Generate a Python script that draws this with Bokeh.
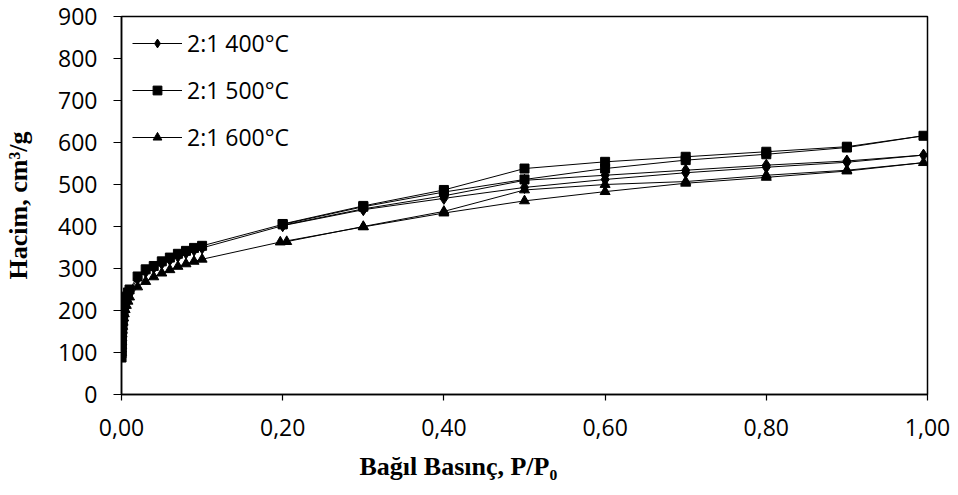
from bokeh.plotting import figure
from bokeh.models import FixedTicker, Legend, LegendItem, Range1d, Title
from bokeh.embed import file_html
from bokeh.resources import INLINE

# ---- data ----
x_ticks = [0.0, 0.2, 0.4, 0.6, 0.8, 1.0]
x_tick_labels = ["0,00", "0,20", "0,40", "0,60", "0,80", "1,00"]
y_ticks = [0, 100, 200, 300, 400, 500, 600, 700, 800, 900]

series_names = ["2:1 400°C", "2:1 500°C", "2:1 600°C"]
x_title = "Bağıl Basınç, P/P₀"
y_title = "Hacim, cm³/g"

# 2:1 400°C (diamond)
p400_ads = [0.00005, 0.0001, 0.0002, 0.0003, 0.0005, 0.0007, 0.001, 0.0014, 0.002, 0.0027,
            0.0035, 0.0045, 0.006, 0.008, 0.01, 0.02, 0.03, 0.04, 0.05, 0.06, 0.07, 0.08,
            0.09, 0.1, 0.2, 0.3, 0.4, 0.5, 0.6, 0.7, 0.8, 0.9, 0.995]
v400_ads = [95, 104, 114, 124, 134, 144, 154, 164, 175, 186,
            197, 208, 220, 232, 244, 276, 292, 302, 312, 321, 329, 337,
            344, 349, 402, 440, 467, 493, 512, 528, 541, 553, 570]
p400_des = [0.9, 0.8, 0.7, 0.6, 0.5, 0.4, 0.3, 0.2]
v400_des = [556, 546, 534, 522, 510, 473, 442, 403]

# 2:1 500°C (square)
p500_ads = [0.00005, 0.0001, 0.0002, 0.0003, 0.0004, 0.0005, 0.0007, 0.0009, 0.0012, 0.0015,
            0.002, 0.0025, 0.003, 0.004, 0.005, 0.006, 0.008, 0.01, 0.02, 0.03, 0.04, 0.05,
            0.06, 0.07, 0.08, 0.09, 0.1, 0.2, 0.3, 0.4, 0.5, 0.6, 0.7, 0.8, 0.9, 0.995]
v500_ads = [88, 98, 108, 118, 127, 135, 145, 155, 165, 175,
            185, 195, 205, 215, 225, 233, 243, 250, 281, 298, 306, 317,
            326, 335, 342, 349, 354, 405, 447, 482, 512, 538, 558, 572, 588, 616]
p500_des = [0.9, 0.8, 0.7, 0.6, 0.5, 0.4, 0.3, 0.2]
v500_des = [590, 578, 566, 554, 538, 487, 449, 406]

# 2:1 600°C (triangle)
p600_ads = [0.00005, 0.0001, 0.0002, 0.0003, 0.0005, 0.0007, 0.001, 0.0014, 0.002, 0.0027,
            0.0035, 0.0045, 0.006, 0.008, 0.01, 0.02, 0.03, 0.04, 0.05, 0.06, 0.07, 0.08,
            0.09, 0.1, 0.197, 0.3, 0.4, 0.5, 0.6, 0.7, 0.8, 0.9, 0.995]
v600_ads = [100, 108, 117, 126, 135, 144, 153, 162, 172, 182,
            192, 202, 212, 222, 232, 256, 269, 280, 289, 297, 305, 311,
            317, 322, 363, 399, 432, 461, 483, 503, 517, 532, 552]
p600_des = [0.9, 0.8, 0.7, 0.6, 0.5, 0.4, 0.3, 0.205]
v600_des = [534, 522, 507, 500, 487, 436, 400, 364]

# ---- figure ----
p = figure(width=958, height=495, output_backend="svg", toolbar_location=None,
           x_range=Range1d(0, 1), y_range=Range1d(0, 900),
           min_border_left=121, min_border_right=31, min_border_top=16, min_border_bottom=100)
p.background_fill_color = "white"
p.border_fill_color = "white"
p.outline_line_color = "black"
p.outline_line_width = 1.5
p.xgrid.visible = False
p.ygrid.visible = False

p.xaxis.ticker = FixedTicker(ticks=x_ticks)
p.xaxis.major_label_overrides = {t: l for t, l in zip(x_ticks, x_tick_labels)}
p.yaxis.ticker = FixedTicker(ticks=y_ticks)

for ax in (p.xaxis, p.yaxis):
    ax.axis_line_color = "black"
    ax.axis_line_width = 1.5
    ax.major_tick_line_color = "black"
    ax.major_tick_line_width = 1.2
    ax.minor_tick_line_color = None
    ax.major_tick_in = 0
    ax.major_label_text_font = "Open Sans"
    ax.major_label_text_font_size = "23px"
    ax.major_label_text_color = "black"
p.xaxis.major_tick_out = 6
p.yaxis.major_tick_out = 8
p.xaxis.major_label_standoff = 18
p.yaxis.major_label_standoff = 16

p.yaxis.axis_label = y_title
p.yaxis.axis_label_standoff = 22
p.yaxis.axis_label_text_font = "Liberation Serif"
p.yaxis.axis_label_text_font_size = "26px"
p.yaxis.axis_label_text_font_style = "bold"
p.yaxis.axis_label_text_color = "black"

markers = ["diamond", "square", "triangle"]
sizes = [12, 9, 10]
data = [(p400_ads + p400_des, v400_ads + v400_des),
        (p500_ads + p500_des, v500_ads + v500_des),
        (p600_ads + p600_des, v600_ads + v600_des)]

items = []
for name, (xs, ys), mk, sz in zip(series_names, data, markers, sizes):
    ln = p.line(xs, ys, line_color="black", line_width=1)
    sc = p.scatter(xs, ys, marker=mk, size=sz, fill_color="black", line_color="black")
    items.append(LegendItem(label=name, renderers=[ln, sc]))

legend = Legend(items=items, location="top_left")
legend.border_line_color = None
legend.background_fill_alpha = 0
legend.label_text_font = "Open Sans"
legend.label_text_font_size = "23px"
legend.label_text_color = "black"
legend.glyph_width = 50
legend.glyph_height = 22
legend.label_height = 22
legend.spacing = 15
legend.padding = 15
legend.margin = 11
legend.label_standoff = 5
p.add_layout(legend, "center")

xt = Title(text=x_title, align="left", offset=238, standoff=26, vertical_align="top",
           text_font="Liberation Serif", text_font_size="26px", text_font_style="bold",
           text_color="black")
p.add_layout(xt, "below")

open("out.html", "w").write(file_html(p, INLINE))
